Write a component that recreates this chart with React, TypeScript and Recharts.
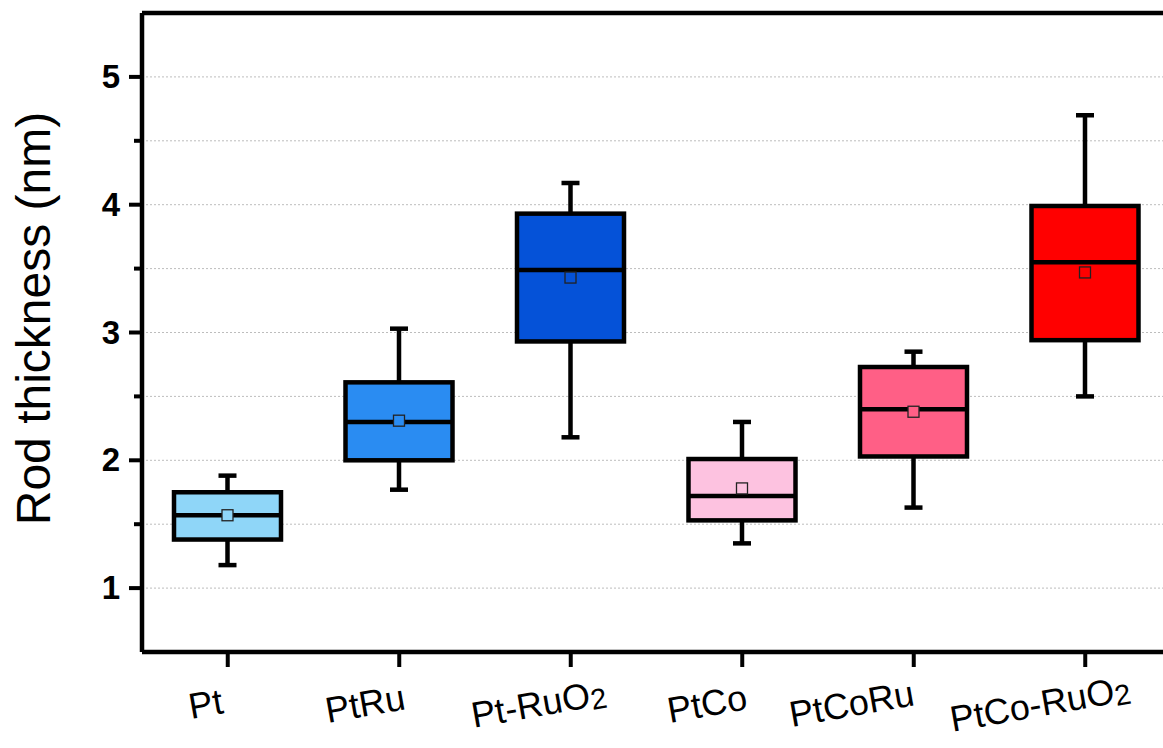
import React from 'react';
import { ComposedChart, Bar, XAxis, YAxis, CartesianGrid, ReferenceLine } from 'recharts';

const categories = ['Pt', 'PtRu', 'Pt-RuO2', 'PtCo', 'PtCoRu', 'PtCo-RuO2'];
const mins = [1.18, 1.77, 2.18, 1.35, 1.63, 2.5];
const q1s = [1.38, 2.0, 2.93, 1.53, 2.03, 2.94];
const medians = [1.57, 2.3, 3.49, 1.72, 2.4, 3.55];
const q3s = [1.75, 2.61, 3.93, 2.01, 2.73, 3.99];
const maxs = [1.88, 3.03, 4.17, 2.3, 2.85, 4.7];
const means = [1.57, 2.31, 3.43, 1.78, 2.38, 3.47];
const yTicks = [1, 1.5, 2, 2.5, 3, 3.5, 4, 4.5, 5];

const colors = ['#8fd6f8', '#2a8cf2', '#0552d8', '#fdc2e0', '#ff5f86', '#ff0000'];
const labelNudge = [-20, -32, -30, -33, -60, -43];

const FONT = '"Liberation Sans", Arial, sans-serif';

const rows = categories.map((name, i) => ({
  name,
  min: mins[i],
  q1: q1s[i],
  median: medians[i],
  q3: q3s[i],
  max: maxs[i],
  mean: means[i],
  color: colors[i],
}));

function BoxShape(props: any) {
  const { x, y, width, height, payload } = props;
  const top = Math.min(y, y + height);
  const h = Math.abs(height);
  const k = h / (payload.q3 - payload.q1);
  const py = (v: number) => top + (payload.q3 - v) * k;
  const cx = x + width / 2;
  const sw = 4.5;
  return (
    <g>
      <line x1={cx} x2={cx} y1={py(payload.max)} y2={py(payload.min)} stroke="#000" strokeWidth={sw} />
      <line x1={cx - 9} x2={cx + 9} y1={py(payload.max)} y2={py(payload.max)} stroke="#000" strokeWidth={sw} />
      <line x1={cx - 9} x2={cx + 9} y1={py(payload.min)} y2={py(payload.min)} stroke="#000" strokeWidth={sw} />
      <rect x={x} y={top} width={width} height={h} fill={payload.color} stroke="#000" strokeWidth={sw} />
      <line x1={x} x2={x + width} y1={py(payload.median)} y2={py(payload.median)} stroke="#000" strokeWidth={sw} />
      <rect x={cx - 5.5} y={py(payload.mean) - 5.5} width={11} height={11} fill={payload.color} stroke="#222" strokeWidth={1.3} />
    </g>
  );
}

function YTick(props: any) {
  const { x, y, payload } = props;
  const major = Number.isInteger(payload.value);
  return (
    <g>
      <line x1={x - (major ? 13 : 8)} x2={x} y1={y} y2={y} stroke="#000" strokeWidth={4} />
      {major && (
        <text x={x - 22} y={y + 11} textAnchor="end" fill="#000" fontSize={33} fontWeight="bold" fontFamily={FONT}>
          {String(payload.value)}
        </text>
      )}
    </g>
  );
}

function XTick(props: any) {
  const { x, y, payload, index } = props;
  const cx = x + (labelNudge[index] ?? -30);
  const by = y + 64;
  const label: string = payload.value;
  const sub = label.endsWith('O2');
  return (
    <g>
      <line x1={x} x2={x} y1={y} y2={y + 15} stroke="#000" strokeWidth={4} />
      <text
        x={cx}
        y={by}
        textAnchor="middle"
        fill="#000"
        fontSize={36}
        fontFamily={FONT}
        transform={`rotate(-10, ${cx}, ${by})`}
      >
        {sub ? label.slice(0, -1) : label}
        {sub && (
          <tspan fontSize={29} dy={3}>
            2
          </tspan>
        )}
      </text>
    </g>
  );
}

function YTitle(props: any) {
  const vb = props.viewBox || { x: 0, y: 13, width: 142, height: 639 };
  const tx = 50;
  const ty = vb.y + vb.height / 2 - 14;
  return (
    <text
      x={tx}
      y={ty}
      textAnchor="middle"
      fill="#000"
      fontSize={48}
      fontFamily={FONT}
      transform={`rotate(-90, ${tx}, ${ty})`}
    >
      Rod thickness (nm)
    </text>
  );
}

export default function App() {
  return (
    <div style={{ position: 'absolute', left: 0, top: 0, width: 1163, height: 748, overflow: 'hidden', background: '#fff' }}>
      <ComposedChart width={1180} height={748} data={rows} margin={{ top: 13, right: 9, bottom: 0, left: 0 }}>
        <CartesianGrid vertical={false} stroke="#bdbdbd" strokeDasharray="2 2" strokeWidth={1} />
        <XAxis
          dataKey="name"
          type="category"
          interval={0}
          height={96}
          tickSize={0}
          tickMargin={0}
          tickLine={false}
          axisLine={{ stroke: '#000', strokeWidth: 4.5 }}
          tick={<XTick />}
        />
        <YAxis
          type="number"
          domain={[0.5, 5.5]}
          ticks={yTicks}
          allowDataOverflow
          width={142}
          tickSize={0}
          tickMargin={0}
          tickLine={false}
          axisLine={{ stroke: '#000', strokeWidth: 4.5 }}
          tick={<YTick />}
          label={<YTitle />}
        />
        <ReferenceLine y={5.5} stroke="#000" strokeWidth={4.5} ifOverflow="visible" />
        <Bar dataKey={(d: any) => [d.q1, d.q3]} barSize={107} isAnimationActive={false} shape={(p: any) => <BoxShape {...p} />} />
      </ComposedChart>
    </div>
  );
}
